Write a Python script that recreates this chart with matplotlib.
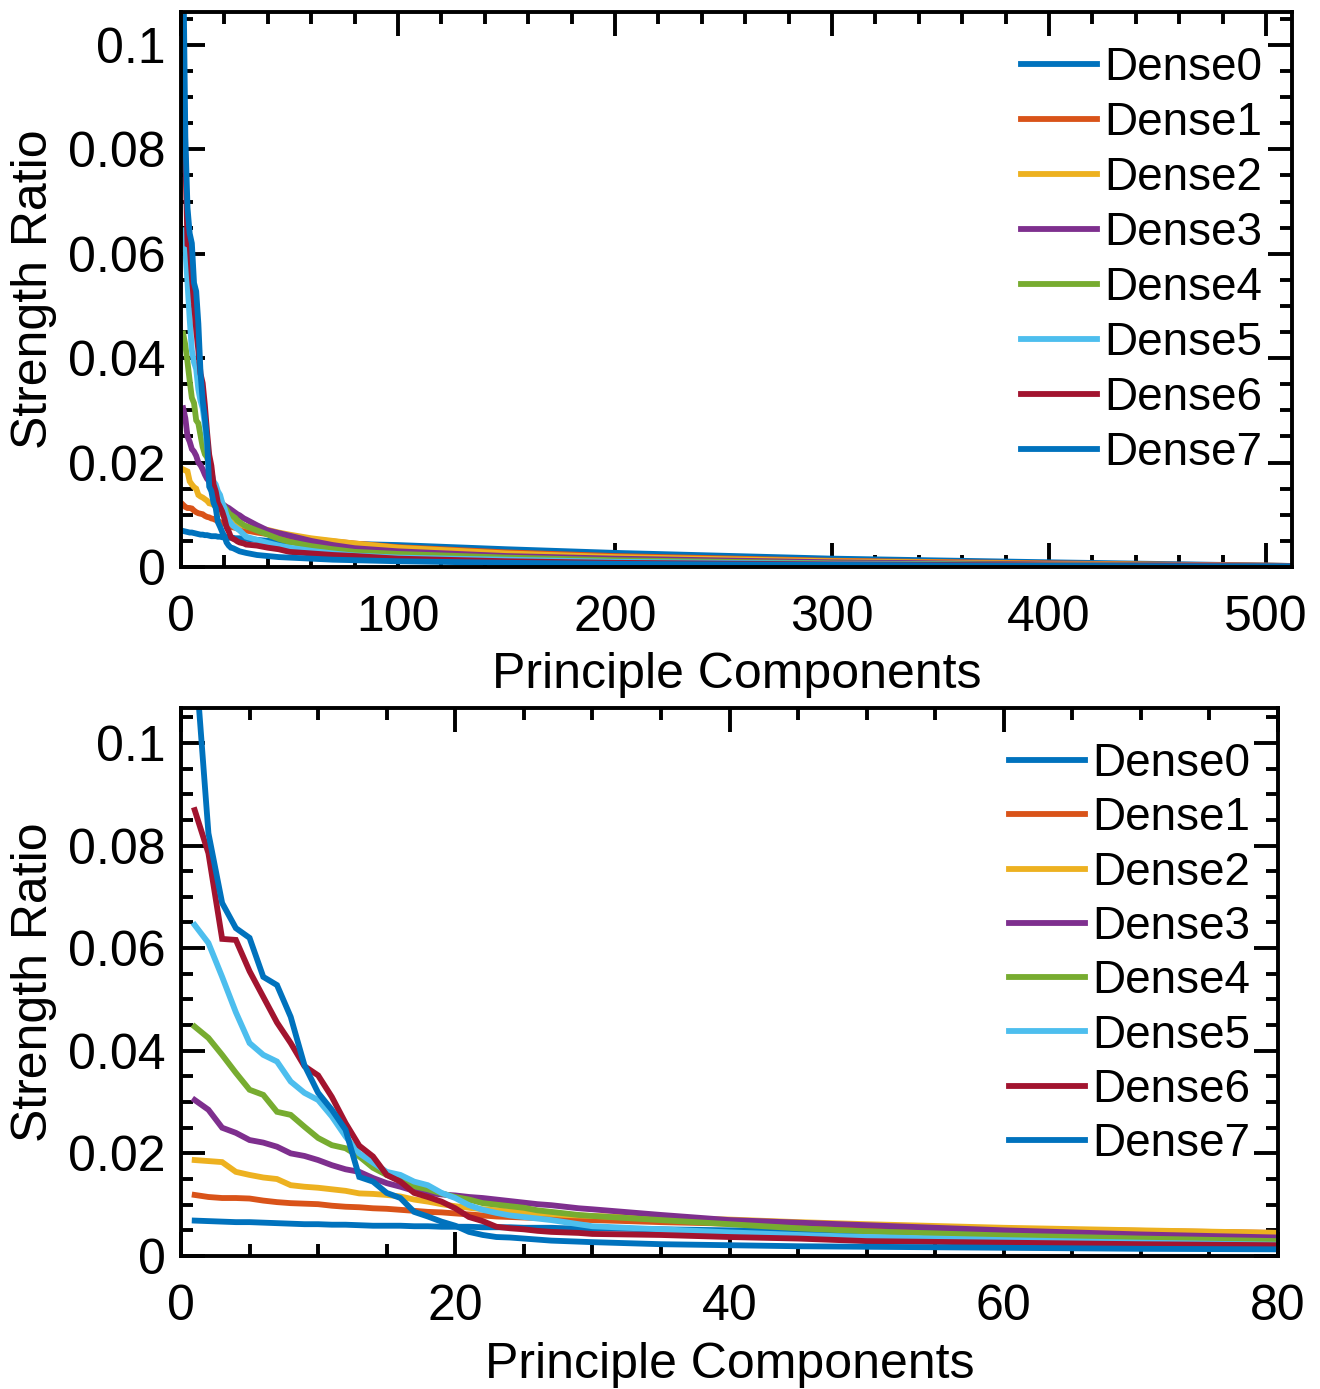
import numpy as np
import matplotlib
matplotlib.use('Agg')
from matplotlib import pyplot as plt
from matplotlib.ticker import MultipleLocator

plt.rcParams['font.family'] = ['Liberation Sans', 'DejaVu Sans']

comp = [1, 2, 3, 4, 5, 6, 7, 8, 9, 10,
        11, 12, 13, 14, 15, 16, 17, 18, 19, 20,
        21, 22, 23, 24, 25, 26, 27, 28, 29, 30,
        35, 40, 45, 50, 60, 70, 80, 100, 150, 200, 300, 400, 512]

dense0 = [.0069, .0068, .0067, .0066, .0066, .0065, .0064, .0063, .0062, .0062,
          .0061, .0061, .0060, .0059, .0059, .0059, .0058, .0058, .0057, .0057,
          .0057, .0056, .0056, .0056, .0055, .0055, .0055, .0054, .0054, .0054,
          .0052, .0050, .0049, .0048, .0046, .0045, .0044, .0042, .0034, .0027, .0016, .0009, .0002]
dense1 = [.0119, .0115, .0113, .0113, .0112, .0108, .0105, .0103, .0102, .0101,
          .0098, .0096, .0095, .0093, .0092, .0090, .0088, .0086, .0085, .0083,
          .0081, .0079, .0077, .0076, .0075, .0074, .0074, .0072, .0071, .0070,
          .0066, .0063, .0060, .0058, .0053, .0049, .0045, .0038, .0028, .0021, .0012, .0007, .0002]
dense2 = [.0187, .0185, .0183, .0164, .0158, .0153, .0150, .0138, .0135, .0133,
          .0130, .0127, .0122, .0121, .0119, .0116, .0110, .0106, .0101, .0097,
          .0094, .0091, .0089, .0087, .0085, .0083, .0082, .0080, .0079, .0078,
          .0074, .0071, .0066, .0062, .0055, .0050, .0045, .0037, .0026, .0019, .0011, .0006, .0002]
dense3 = [.0304, .0285, .0250, .0240, .0226, .0221, .0213, .0200, .0195, .0187,
          .0177, .0169, .0164, .0152, .0142, .0135, .0127, .0123, .0120, .0118,
          .0115, .0113, .0110, .0107, .0104, .0101, .0099, .0096, .0093, .0091,
          .0080, .0070, .0065, .0060, .0050, .0042, .0036, .0030, .0021, .0016, .0009, .0005, .0002]
dense4 = [.0447, .0425, .0392, .0357, .0324, .0314, .0281, .0275, .0252, .0230,
          .0216, .0210, .0194, .0172, .0158, .0148, .0136, .0130, .0122, .0115,
          .0110, .0103, .0100, .0097, .0094, .0089, .0086, .0083, .0080, .0078,
          .0070, .0062, .0054, .0048, .0040, .0034, .0029, .0025, .0018, .0013, .0007, .0004, .0001]
dense5 = [.0645, .0610, .0544, .0475, .0415, .0392, .0379, .0340, .0318, .0304,
          .0272, .0233, .0200, .0182, .0164, .0158, .0145, .0138, .0123, .0113,
          .0099, .0090, .0084, .0079, .0076, .0073, .0070, .0066, .0062, .0058,
          .0052, .0046, .0041, .0037, .0031, .0026, .0022, .0018, .0014, .0010, .0006, .0003, .0001]
dense6 = [.0869, .0785, .0618, .0616, .0555, .0505, .0455, .0415, .0370, .0352,
          .0310, .0259, .0215, .0194, .0158, .0145, .0123, .0115, .0106, .0093,
          .0076, .0068, .0057, .0054, .0052, .0049, .0047, .0046, .0045, .0043,
          .0041, .0037, .0034, .0029, .0026, .0023, .0021, .0016, .0011, .0008, .0005, .0003, .0001]
dense7 = [.1180, .0824, .0688, .0639, .0620, .0544, .0528, .0466, .0372, .0318,
          .0285, .0246, .0154, .0145, .0123, .0113, .0086, .0077, .0067, .0059,
          .0047, .0041, .0037, .0036, .0034, .0032, .0030, .0029, .0028, .0027,
          .0023, .0021, .0019, .0018, .0016, .0014, .0013, .0011, .0008, .0006, .0004, .0002, .0001]

series = [dense0, dense1, dense2, dense3, dense4, dense5, dense6, dense7]
names = ['Dense0', 'Dense1', 'Dense2', 'Dense3', 'Dense4', 'Dense5', 'Dense6', 'Dense7']
colors = ['#0072BD', '#D95319', '#EDB120', '#7E2F8E', '#77AC30', '#4DBEEE', '#A2142F', '#0072BD']

yticks = [0, 0.02, 0.04, 0.06, 0.08, 0.1]
ytick_labels = ['0', '0.02', '0.04', '0.06', '0.08', '0.1']

fig = plt.figure(figsize=(13.2, 13.89), dpi=100)
ax1 = fig.add_axes([181/1320, 1-567/1389, 1111/1320, 555/1389])
ax2 = fig.add_axes([181/1320, 1-1256/1389, 1097/1320, 548/1389])


def style(ax, xmax, ymax, xmajor, xminor, legend_anchor, spacing):
    for s, n, c in zip(series, names, colors):
        ax.plot(comp, s, color=c, lw=4.2, label=n, solid_joinstyle='miter')
    ax.set_xlim(0, xmax)
    ax.set_ylim(0, ymax)
    ax.xaxis.set_major_locator(MultipleLocator(xmajor))
    ax.xaxis.set_minor_locator(MultipleLocator(xminor))
    ax.set_yticks(yticks)
    ax.set_yticklabels(ytick_labels)
    ax.yaxis.set_minor_locator(MultipleLocator(0.005))
    ax.tick_params(which='both', direction='in', top=True, right=True, width=2.8,
                   labelsize=36)
    ax.tick_params(which='major', length=17)
    ax.tick_params(which='minor', length=8.5)
    ax.tick_params(axis='x', pad=20)
    ax.tick_params(axis='y', pad=11)
    for sp in ax.spines.values():
        sp.set_linewidth(2.8)
    ax.set_xlabel('Principle Components', fontsize=36)
    ax.set_ylabel('Strength Ratio', fontsize=36)
    ax.legend(loc='upper right', bbox_to_anchor=legend_anchor, frameon=False,
              fontsize=33, handlelength=1.67, handletextpad=0.15,
              labelspacing=spacing, borderpad=0, borderaxespad=0)


style(ax1, 512, 0.1063, 100, 20, (0.973, 0.938), 0.24)
style(ax2, 80, 0.1068, 20, 5, (0.9745, 0.938), 0.225)

ax1.yaxis.set_label_coords(-0.112, 0.5)
ax2.yaxis.set_label_coords(-0.113, 0.5)
ax1.xaxis.set_label_coords(0.5, -0.154)
ax2.xaxis.set_label_coords(0.5, -0.157)

fig.savefig('out.png', dpi=100)
